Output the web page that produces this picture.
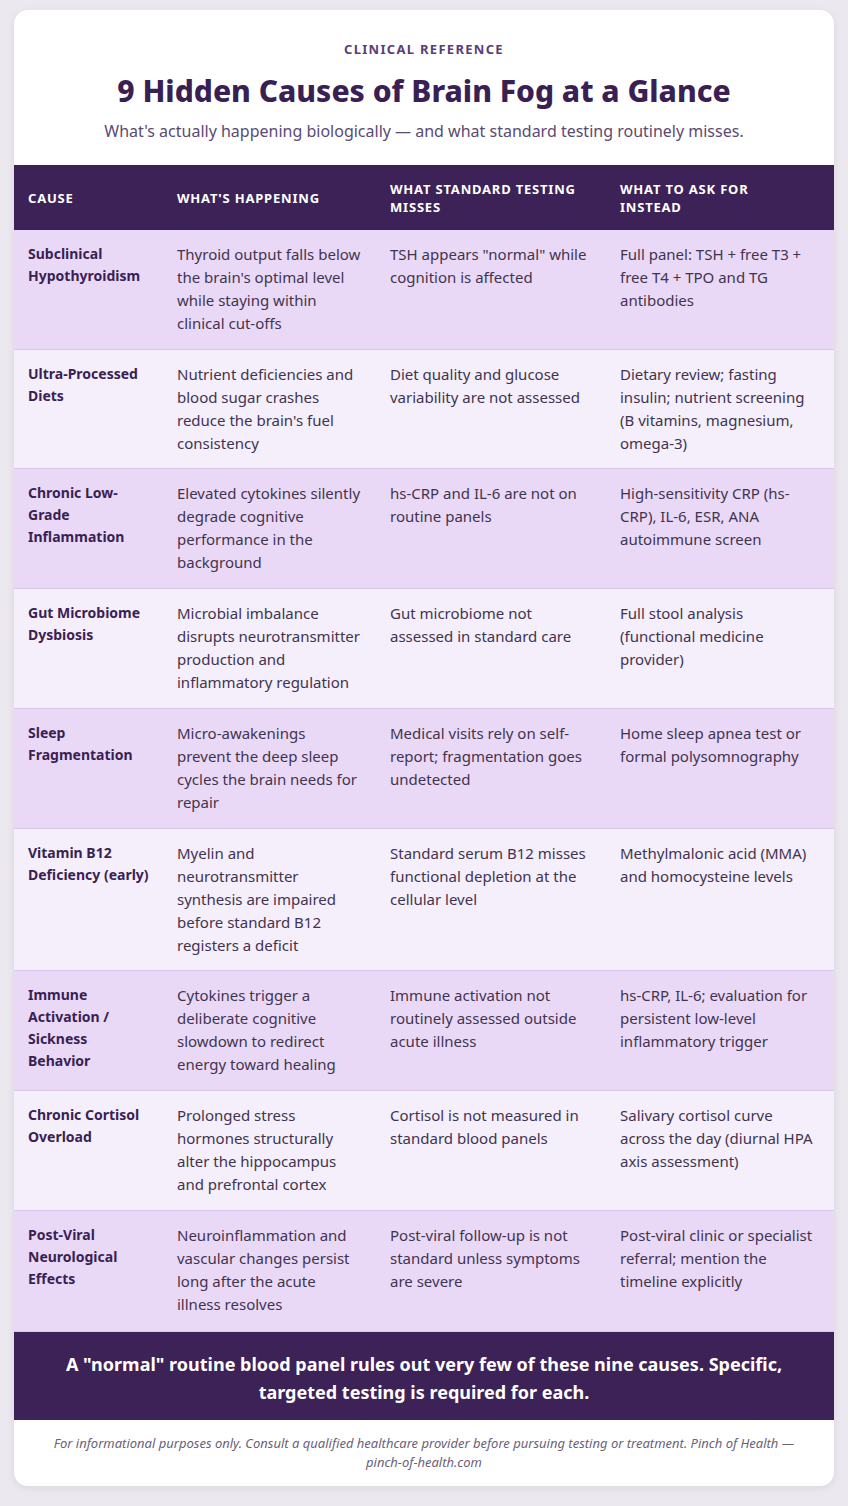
<!DOCTYPE html>
<html><head><meta charset="utf-8">
<script src="https://cdn.jsdelivr.net/npm/chart.js@4"></script>
<style>
body{margin:0;background:#ece8f0;font-family:"Noto Sans",sans-serif;}
.card{position:absolute;left:14px;top:10px;width:820px;height:1476px;background:#fff;border-radius:14px;overflow:hidden;box-shadow:0 2px 8px rgba(0,0,0,.08);}
.kicker{margin-top:30px;text-align:center;color:#5a3d7a;font-weight:700;font-size:13px;letter-spacing:1.3px;}
h1{margin:13px 0 0;text-align:center;color:#3a1f55;font-size:30px;font-weight:800;line-height:40px;}
.sub{text-align:center;color:#5b4a72;font-size:16px;margin-top:9px;}
table{border-collapse:collapse;width:820px;margin-top:23px;table-layout:fixed;}
th{background:#3d2257;color:#fff;font-size:13px;font-weight:700;letter-spacing:.8px;text-align:left;vertical-align:middle;height:65px;padding:0 24px 0 14px;line-height:18px;}
td{vertical-align:top;padding:13px 14px 0;font-size:15px;line-height:23px;color:#3f3450;}
td:first-child{font-weight:700;font-size:14px;line-height:22px;color:#3a1f55;}
tr.a td{background:#ead9f6;} tr.b td{background:#f5eefb;}
tr td{border-bottom:1px solid #d9c7e8;}
.band{background:#3d2257;color:#fff;font-weight:700;font-size:18px;text-align:center;line-height:28px;height:88px;box-sizing:border-box;padding:18px 40px 0;}
.note{text-align:center;color:#6b5f7a;font-style:italic;font-size:13px;line-height:19px;padding:14px 30px 0;}
</style></head><body>
<div class="card">
<div class="kicker">CLINICAL REFERENCE</div>
<h1>9 Hidden Causes of Brain Fog at a Glance</h1>
<div class="sub">What's actually happening biologically — and what standard testing routinely misses.</div>
<table id="t"><colgroup><col style="width:149px"><col style="width:213px"><col style="width:230px"><col style="width:228px"></colgroup></table>
<div class="band">A "normal" routine blood panel rules out very few of these nine causes. Specific, targeted testing is required for each.</div>
<div class="note">For informational purposes only. Consult a qualified healthcare provider before pursuing testing or treatment. Pinch of Health — pinch-of-health.com</div>
</div>
<script>
const headers = ["CAUSE", "WHAT'S HAPPENING", "WHAT STANDARD TESTING MISSES", "WHAT TO ASK FOR INSTEAD"];
const causes = ["Subclinical Hypothyroidism", "Ultra-Processed Diets", "Chronic Low-Grade Inflammation", "Gut Microbiome Dysbiosis", "Sleep Fragmentation", "Vitamin B12 Deficiency (early)", "Immune Activation / Sickness Behavior", "Chronic Cortisol Overload", "Post-Viral Neurological Effects"];
const happening = [
  "Thyroid output falls below the brain's optimal level while staying within clinical cut-offs",
  "Nutrient deficiencies and blood sugar crashes reduce the brain's fuel consistency",
  "Elevated cytokines silently degrade cognitive performance in the background",
  "Microbial imbalance disrupts neurotransmitter production and inflammatory regulation",
  "Micro-awakenings prevent the deep sleep cycles the brain needs for repair",
  "Myelin and neurotransmitter synthesis are impaired before standard B12 registers a deficit",
  "Cytokines trigger a deliberate cognitive slowdown to redirect energy toward healing",
  "Prolonged stress hormones structurally alter the hippocampus and prefrontal cortex",
  "Neuroinflammation and vascular changes persist long after the acute illness resolves"];
const misses = [
  "TSH appears \"normal\" while cognition is affected",
  "Diet quality and glucose variability are not assessed",
  "hs-CRP and IL-6 are not on routine panels",
  "Gut microbiome not assessed in standard care",
  "Medical visits rely on self-report; fragmentation goes undetected",
  "Standard serum B12 misses functional depletion at the cellular level",
  "Immune activation not routinely assessed outside acute illness",
  "Cortisol is not measured in standard blood panels",
  "Post-viral follow-up is not standard unless symptoms are severe"];
const askFor = [
  "Full panel: TSH + free T3 + free T4 + TPO and TG antibodies",
  "Dietary review; fasting insulin; nutrient screening (B vitamins, magnesium, omega-3)",
  "High-sensitivity CRP (hs-CRP), IL-6, ESR, ANA autoimmune screen",
  "Full stool analysis (functional medicine provider)",
  "Home sleep apnea test or formal polysomnography",
  "Methylmalonic acid (MMA) and homocysteine levels",
  "hs-CRP, IL-6; evaluation for persistent low-level inflammatory trigger",
  "Salivary cortisol curve across the day (diurnal HPA axis assessment)",
  "Post-viral clinic or specialist referral; mention the timeline explicitly"];
const rowHeights = [119, 119, 120, 120, 120, 142, 120, 120, 121];

const t = document.getElementById("t");
const hr = t.insertRow();
headers.forEach(h => { const th = document.createElement("th"); th.textContent = h; hr.appendChild(th); });
causes.forEach((c, i) => {
  const r = t.insertRow();
  r.className = i % 2 ? "b" : "a";
  r.style.height = rowHeights[i] + "px";
  [c, happening[i], misses[i], askFor[i]].forEach(v => { r.insertCell().textContent = v; });
});
</script>
</body></html>
